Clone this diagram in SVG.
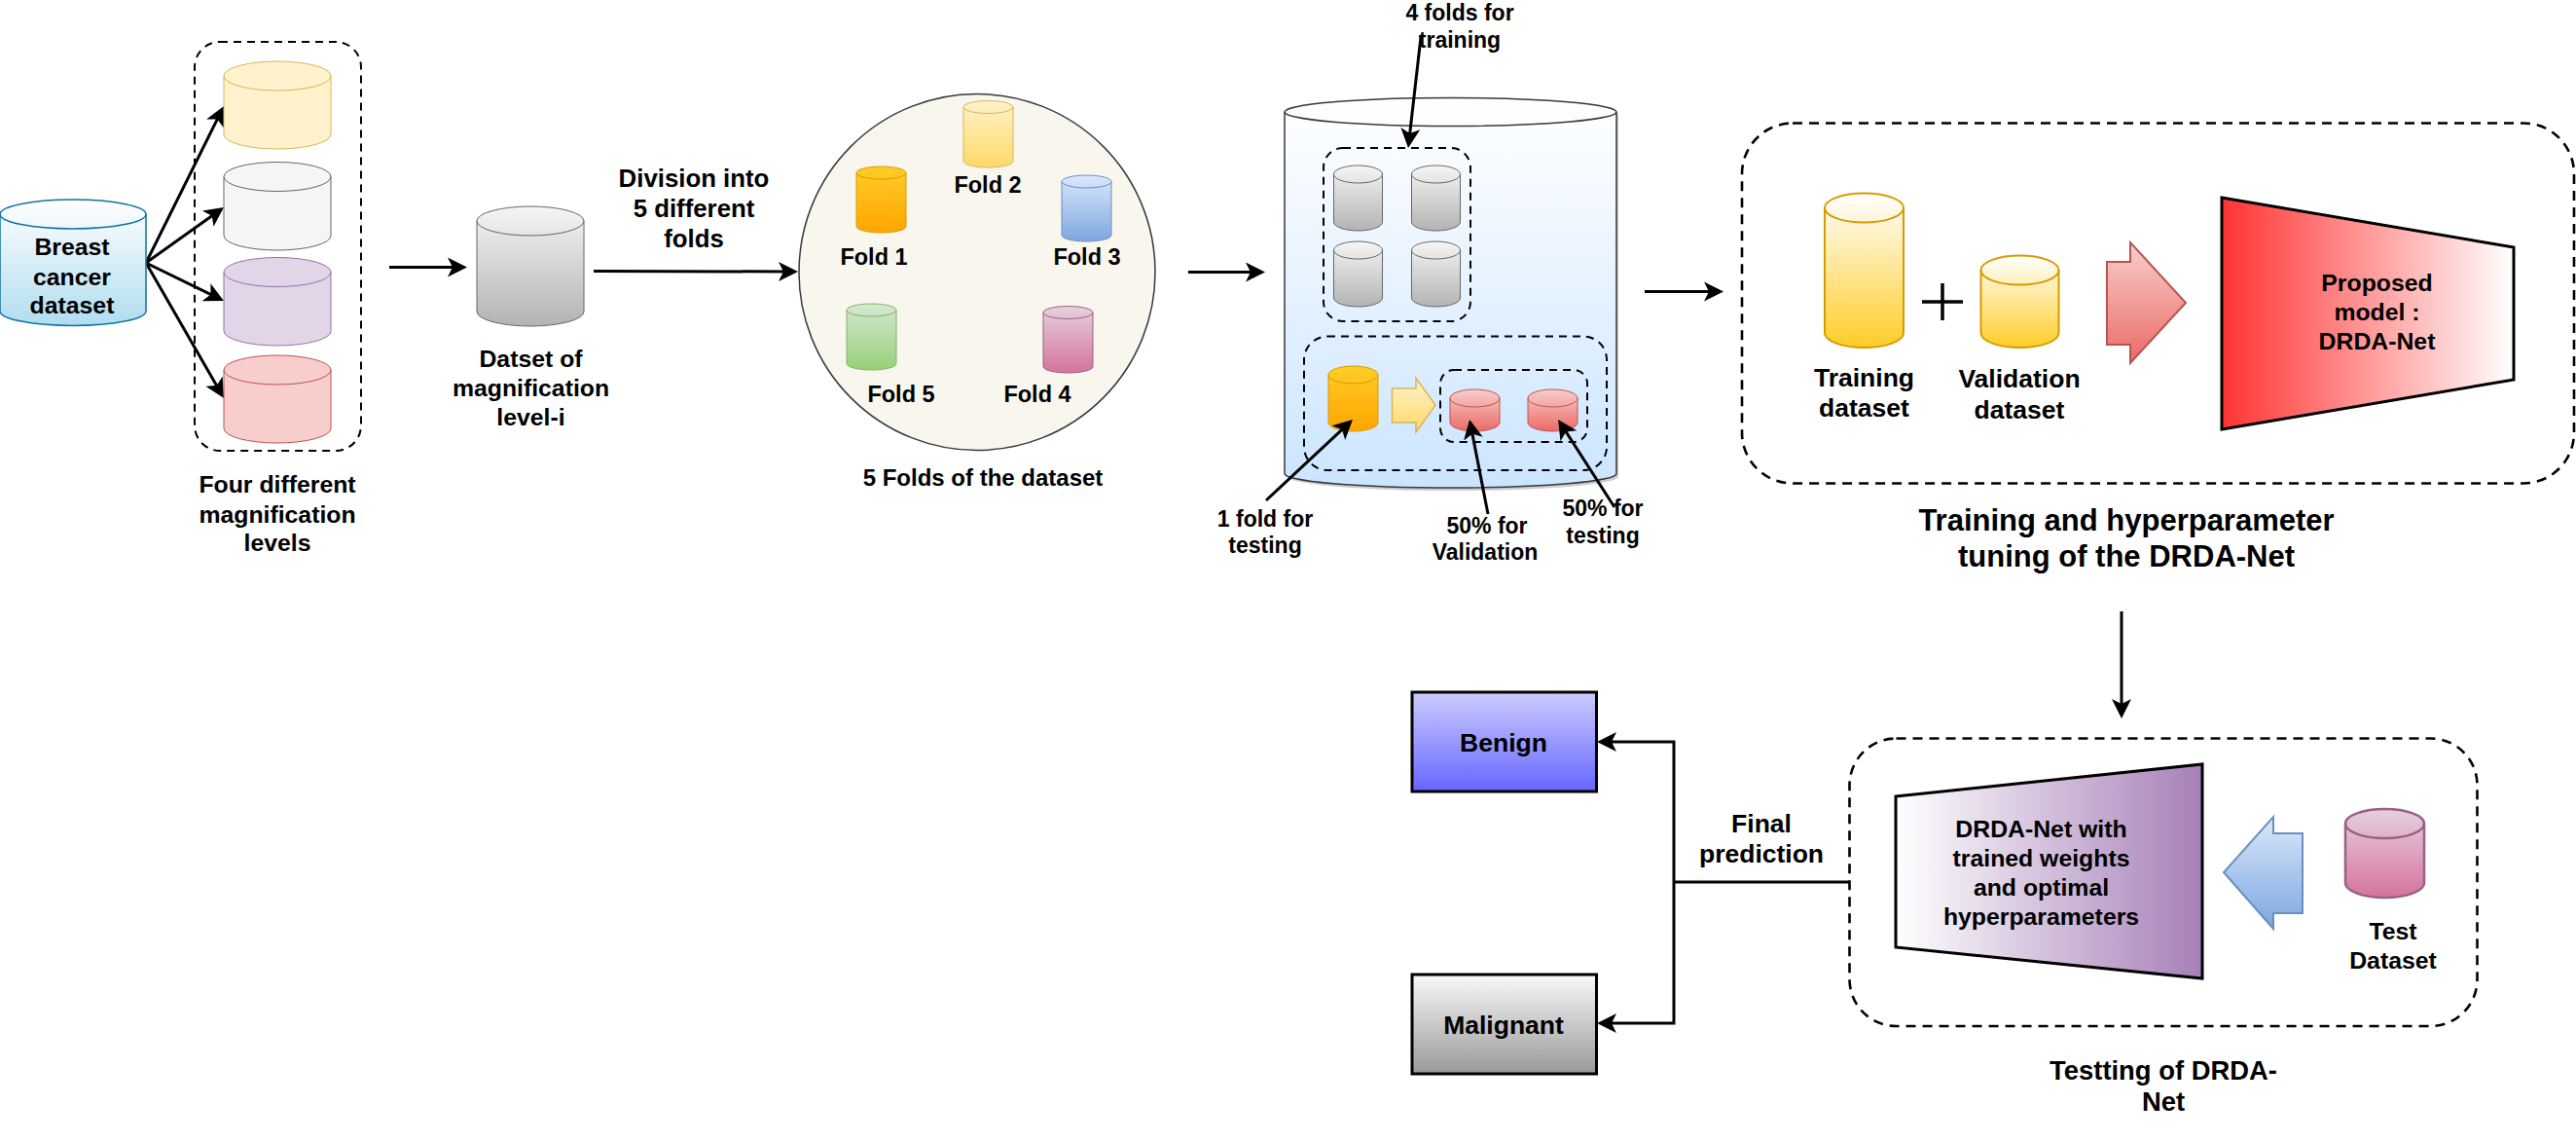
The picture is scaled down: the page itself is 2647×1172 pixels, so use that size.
<svg xmlns="http://www.w3.org/2000/svg" width="2647" height="1172" viewBox="0 0 2647 1172">
<style>
text{font-family:"Liberation Sans",Arial,sans-serif;font-weight:bold;fill:#000;text-anchor:middle}
.t23{font-size:23px}.t235{font-size:23.5px}.t24{font-size:24.8px}.t26{font-size:26.5px}.t27{font-size:27.4px}.t30{font-size:31px}.t25{font-size:25.8px}
.d2{fill:none;stroke:#000;stroke-width:2;stroke-dasharray:8 6}
.d3{fill:none;stroke:#000;stroke-width:2.6;stroke-dasharray:10 7}
.a{fill:none;stroke:#000;stroke-width:3;marker-end:url(#ah)}
.l{fill:none;stroke:#000;stroke-width:3}
.lid{fill:none}
</style>
<defs>
<marker id="ah" markerUnits="userSpaceOnUse" markerWidth="24" markerHeight="24" viewBox="0 -12 24 24" refX="14" refY="0" orient="auto"><path d="M0,-10L20,0L0,10L5,0Z" fill="#000"/></marker>
<linearGradient id="gBlue" x2="0" y2="1"><stop offset="0" stop-color="#fff"/><stop offset="1" stop-color="#b1ddf0"/></linearGradient>
<linearGradient id="gGrey" x2="0" y2="1"><stop offset="0" stop-color="#f5f5f5"/><stop offset="1" stop-color="#b3b3b3"/></linearGradient>
<linearGradient id="gOrange" x2="0" y2="1"><stop offset="0" stop-color="#ffcd28"/><stop offset="1" stop-color="#ffa500"/></linearGradient>
<linearGradient id="gYellow" x2="0" y2="1"><stop offset="0" stop-color="#fff2cc"/><stop offset="1" stop-color="#ffd966"/></linearGradient>
<linearGradient id="gSky" x2="0" y2="1"><stop offset="0" stop-color="#dae8fc"/><stop offset="1" stop-color="#7ea6e0"/></linearGradient>
<linearGradient id="gPink" x2="0" y2="1"><stop offset="0" stop-color="#e6d0de"/><stop offset="1" stop-color="#d5739d"/></linearGradient>
<linearGradient id="gGreen" x2="0" y2="1"><stop offset="0" stop-color="#d5e8d4"/><stop offset="1" stop-color="#97d077"/></linearGradient>
<linearGradient id="gRed" x2="0" y2="1"><stop offset="0" stop-color="#f8cecc"/><stop offset="1" stop-color="#ea6b66"/></linearGradient>
<linearGradient id="gBig" x2="0" y2="1"><stop offset="0" stop-color="#fff"/><stop offset="1" stop-color="#cce5ff"/></linearGradient>
<linearGradient id="gGold" x2="0" y2="1"><stop offset="0" stop-color="#fff"/><stop offset="1" stop-color="#ffcd28"/></linearGradient>
<linearGradient id="gBenign" x2="0" y2="1"><stop offset="0" stop-color="#ccf"/><stop offset="1" stop-color="#66f"/></linearGradient>
<linearGradient id="gMal" x2="0" y2="1"><stop offset="0" stop-color="#f9f9f9"/><stop offset="1" stop-color="#999"/></linearGradient>
<linearGradient id="gModel"><stop offset="0" stop-color="#f33"/><stop offset="1" stop-color="#fff"/></linearGradient>
<linearGradient id="gNet"><stop offset="0" stop-color="#fff"/><stop offset="1" stop-color="#a680b8"/></linearGradient>
</defs>
<g id="connectors">
<path class="a" d="M150,270L227.3,114.4"/>
<path class="a" d="M150,270L225.1,216.5"/>
<path class="a" d="M150,270L224.6,306.4"/>
<path class="a" d="M150,270L227,403.8"/>
<path class="a" d="M400,274.5H474"/>
<path class="a" d="M610,278.500L814,279"/>
<path class="a" d="M1221,279.5H1294"/>
<path class="a" d="M1690,299.5H1765"/>
<path class="a" d="M2180,628V732"/>
<path class="l" d="M1900,906H1720"/>
<path class="a" d="M1720,906V762H1647"/>
<path class="a" d="M1720,906V1051H1647"/>
</g>
<g id="breast-dataset"><path fill="url(#gBlue)" stroke="#10739e" stroke-width="1.5" d="M0,220a75,15 0 0 1 150,0V319.500a75,15 0 0 1 -150,0Z"/><path class="lid" stroke="#10739e" stroke-width="1.500" d="M0,220a75,15 0 0 0 150,0"/><text class="t24" x="74" y="262">Breast</text><text class="t24" x="74" y="293">cancer</text><text class="t24" x="74" y="322">dataset</text></g>
<g id="magnification-levels"><rect class="d2" x="200" y="43" width="171" height="420" rx="26"/>
<path fill="#fff2cc" stroke="#d6b656" d="M230,78a55,15 0 0 1 110,0V138a55,15 0 0 1 -110,0Z"/><path class="lid" stroke="#d6b656" d="M230,78a55,15 0 0 0 110,0"/>
<path fill="#f5f5f5" stroke="#666" d="M230,181.500a55,15 0 0 1 110,0V242a55,15 0 0 1 -110,0Z"/><path class="lid" stroke="#666" d="M230,181.500a55,15 0 0 0 110,0"/>
<path fill="#e1d5e7" stroke="#9673a6" d="M230,279.500a55,15 0 0 1 110,0V340a55,15 0 0 1 -110,0Z"/><path class="lid" stroke="#9673a6" d="M230,279.500a55,15 0 0 0 110,0"/>
<path fill="#f8cecc" stroke="#b85450" d="M230,380a55,15 0 0 1 110,0V440a55,15 0 0 1 -110,0Z"/><path class="lid" stroke="#b85450" d="M230,380a55,15 0 0 0 110,0"/>
<text class="t24" x="285" y="506">Four different</text><text class="t24" x="285" y="537">magnification</text><text class="t24" x="285" y="566">levels</text></g>
<g id="level-i"><path fill="url(#gGrey)" stroke="#666" d="M490,227a55,15 0 0 1 110,0V320a55,15 0 0 1 -110,0Z"/><path class="lid" stroke="#666" d="M490,227a55,15 0 0 0 110,0"/><text class="t24" x="545.500" y="377">Datset of</text><text class="t24" x="545.500" y="407">magnification</text><text class="t24" x="545.500" y="437">level-i</text></g>
<g id="division-label"><text class="t25" x="713" y="191.500">Division into</text><text class="t25" x="713" y="223">5 different</text><text class="t25" x="713" y="254">folds</text></g>
<g id="folds"><circle cx="1004" cy="279.500" r="183" fill="#f9f7ed" stroke="#36393d" stroke-width="1.500"/>
<path fill="url(#gYellow)" stroke="#d6b656" d="M990,110a25.500,6.500 0 0 1 51,0V165.500a25.500,6.500 0 0 1 -51,0Z"/><path class="lid" stroke="#d6b656" d="M990,110a25.500,6.500 0 0 0 51,0"/>
<path fill="url(#gOrange)" stroke="#d79b00" d="M880,177.500a25.500,6.500 0 0 1 51,0V232.500a25.500,6.500 0 0 1 -51,0Z"/><path class="lid" stroke="#d79b00" d="M880,177.500a25.500,6.500 0 0 0 51,0"/>
<path fill="url(#gSky)" stroke="#6c8ebf" d="M1091,186.500a25.500,6.500 0 0 1 51,0V241.500a25.500,6.500 0 0 1 -51,0Z"/><path class="lid" stroke="#6c8ebf" d="M1091,186.500a25.500,6.500 0 0 0 51,0"/>
<path fill="url(#gGreen)" stroke="#82b366" d="M870,318.500a25.500,6.500 0 0 1 51,0V373.500a25.500,6.500 0 0 1 -51,0Z"/><path class="lid" stroke="#82b366" d="M870,318.500a25.500,6.500 0 0 0 51,0"/>
<path fill="url(#gPink)" stroke="#996185" d="M1072,321a25.500,6.500 0 0 1 51,0V376.500a25.500,6.500 0 0 1 -51,0Z"/><path class="lid" stroke="#996185" d="M1072,321a25.500,6.500 0 0 0 51,0"/>
<text class="t235" x="1015" y="198">Fold 2</text><text class="t235" x="898" y="272">Fold 1</text><text class="t235" x="1117" y="272">Fold 3</text><text class="t235" x="926" y="413">Fold 5</text><text class="t235" x="1066" y="413">Fold 4</text><text class="t24" x="1010" y="498.500" style="font-size:24px">5 Folds of the dataset</text></g>
<g id="split-store"><path fill="#999" opacity=".5" d="M1323,118a170,14.500 0 0 1 340,0V489.500a170,14.500 0 0 1 -340,0Z"/>
<path fill="url(#gBig)" stroke="#36393d" stroke-width="1.500" d="M1320,115a170,14.500 0 0 1 341,0V486.500a170,14.500 0 0 1 -341,0Z"/><path class="lid" stroke="#36393d" stroke-width="1.500" d="M1320,115a170.500,14.500 0 0 0 341,0"/>
<rect class="d2" x="1360" y="152" width="151" height="178" rx="20"/>
<path fill="url(#gGrey)" stroke="#666" d="M1370.500,179a25,9 0 0 1 50,0V228a25,9 0 0 1 -50,0Z"/><path class="lid" stroke="#666" d="M1370.500,179a25,9 0 0 0 50,0"/>
<path fill="url(#gGrey)" stroke="#666" d="M1450.500,179a25,9 0 0 1 50,0V228a25,9 0 0 1 -50,0Z"/><path class="lid" stroke="#666" d="M1450.500,179a25,9 0 0 0 50,0"/>
<path fill="url(#gGrey)" stroke="#666" d="M1370.500,257a25,9 0 0 1 50,0V306a25,9 0 0 1 -50,0Z"/><path class="lid" stroke="#666" d="M1370.500,257a25,9 0 0 0 50,0"/>
<path fill="url(#gGrey)" stroke="#666" d="M1450.500,257a25,9 0 0 1 50,0V306a25,9 0 0 1 -50,0Z"/><path class="lid" stroke="#666" d="M1450.500,257a25,9 0 0 0 50,0"/>
<rect class="d2" x="1340" y="345.500" width="311" height="137.500" rx="24"/>
<path fill="url(#gOrange)" stroke="#d79b00" d="M1365,385a25.500,9 0 0 1 51,0V434a25.500,9 0 0 1 -51,0Z"/><path class="lid" stroke="#d79b00" d="M1365,385a25.500,9 0 0 0 51,0"/>
<path fill="url(#gYellow)" stroke="#d6b656" stroke-width="1.500" d="M1430.500,399H1455V388.500L1475,416L1455,444V434H1430.500Z"/>
<rect class="d2" x="1480" y="380" width="151" height="74" rx="14"/>
<path fill="url(#gRed)" stroke="#b85450" d="M1490,409a25.500,9 0 0 1 51,0V434a25.500,9 0 0 1 -51,0Z"/><path class="lid" stroke="#b85450" d="M1490,409a25.500,9 0 0 0 51,0"/>
<path fill="url(#gRed)" stroke="#b85450" d="M1570,409a25.500,9 0 0 1 51,0V434a25.500,9 0 0 1 -51,0Z"/><path class="lid" stroke="#b85450" d="M1570,409a25.500,9 0 0 0 51,0"/>
</g>
<g id="split-arrows">
<path class="a" d="M1460,38L1447.700,146"/>
<path class="a" d="M1301,514L1385.600,435.100"/>
<path class="a" d="M1529,528L1511.200,436.900"/>
<path class="a" d="M1659,521L1604.300,436"/>
</g>
<g id="split-labels"><text class="t23" x="1500" y="21">4 folds for</text><text class="t23" x="1500" y="49">training</text><text class="t23" x="1300" y="541">1 fold for</text><text class="t23" x="1300" y="567.500">testing</text><text class="t23" x="1528" y="548">50% for</text><text class="t23" x="1526" y="575">Validation</text><text class="t23" x="1647" y="530">50% for</text><text class="t23" x="1647" y="557.500">testing</text></g>
<g id="training"><rect class="d3" x="1790" y="126.500" width="855" height="370" rx="52"/>
<path fill="url(#gGold)" stroke="#d79b00" stroke-width="2" d="M1875,213.500a40.500,15 0 0 1 81,0V342a40.500,15 0 0 1 -81,0Z"/><path class="lid" stroke="#d79b00" stroke-width="2" d="M1875,213.500a40.500,15 0 0 0 81,0"/>
<path fill="url(#gGold)" stroke="#d79b00" stroke-width="2" d="M2035.500,277.500a40,15 0 0 1 80,0V342a40,15 0 0 1 -80,0Z"/><path class="lid" stroke="#d79b00" stroke-width="2" d="M2035.500,277.500a40,15 0 0 0 80,0"/>
<path fill="none" stroke="#000" stroke-width="3.500" d="M1975,310H2017M1996,291V329"/>
<path fill="url(#gRed)" stroke="#b85450" stroke-width="2" d="M2165,269H2189V249L2246,311L2189,373V354H2165Z"/>
<path fill="url(#gModel)" stroke="#000" stroke-width="3" d="M2283,203L2583,254V390L2283,441Z"/>
<text class="t24" x="2442.500" y="299">Proposed</text><text class="t24" x="2442.500" y="329">model :</text><text class="t24" x="2442.500" y="359">DRDA-Net</text>
<text class="t26" x="1915.500" y="397">Training</text><text class="t26" x="1915.500" y="428">dataset</text><text class="t26" x="2075" y="398">Validation</text><text class="t26" x="2075" y="430">dataset</text>
<text class="t30" x="2185" y="545">Training and hyperparameter</text><text class="t30" x="2185" y="581.500">tuning of the DRDA-Net</text></g>
<g id="benign"><rect x="1451" y="711" width="189.500" height="102" fill="url(#gBenign)" stroke="#000" stroke-width="3"/><text class="t26" x="1545" y="772">Benign</text></g>
<g id="malignant"><rect x="1451" y="1001" width="189.500" height="102" fill="url(#gMal)" stroke="#000" stroke-width="3"/><text class="t26" x="1545" y="1062">Malignant</text></g>
<g id="final-label"><text class="t26" x="1810" y="855">Final</text><text class="t26" x="1810" y="886">prediction</text></g>
<g id="testing"><rect class="d3" x="1900.500" y="758.500" width="645" height="295.500" rx="48"/>
<path fill="url(#gNet)" stroke="#000" stroke-width="3" d="M1948,818L2263,785V1005L1948,973Z"/>
<text class="t24" x="2097.500" y="860">DRDA-Net with</text><text class="t24" x="2097.500" y="890">trained weights</text><text class="t24" x="2097.500" y="920">and optimal</text><text class="t24" x="2097.500" y="950">hyperparameters</text>
<path fill="url(#gSky)" stroke="#6c8ebf" stroke-width="2" d="M2366,856H2336V839L2285,896L2336,954V938H2366Z"/>
<path fill="url(#gPink)" stroke="#996185" stroke-width="2.500" d="M2410,846a40.500,15 0 0 1 81,0V907a40.500,15 0 0 1 -81,0Z"/><path class="lid" stroke="#996185" stroke-width="2.500" d="M2410,846a40.500,15 0 0 0 81,0"/>
<text class="t24" x="2459" y="965">Test</text><text class="t24" x="2459" y="995">Dataset</text>
<text class="t27" x="2223" y="1109">Testting of DRDA-</text><text class="t27" x="2223" y="1141">Net</text></g>
</svg>
